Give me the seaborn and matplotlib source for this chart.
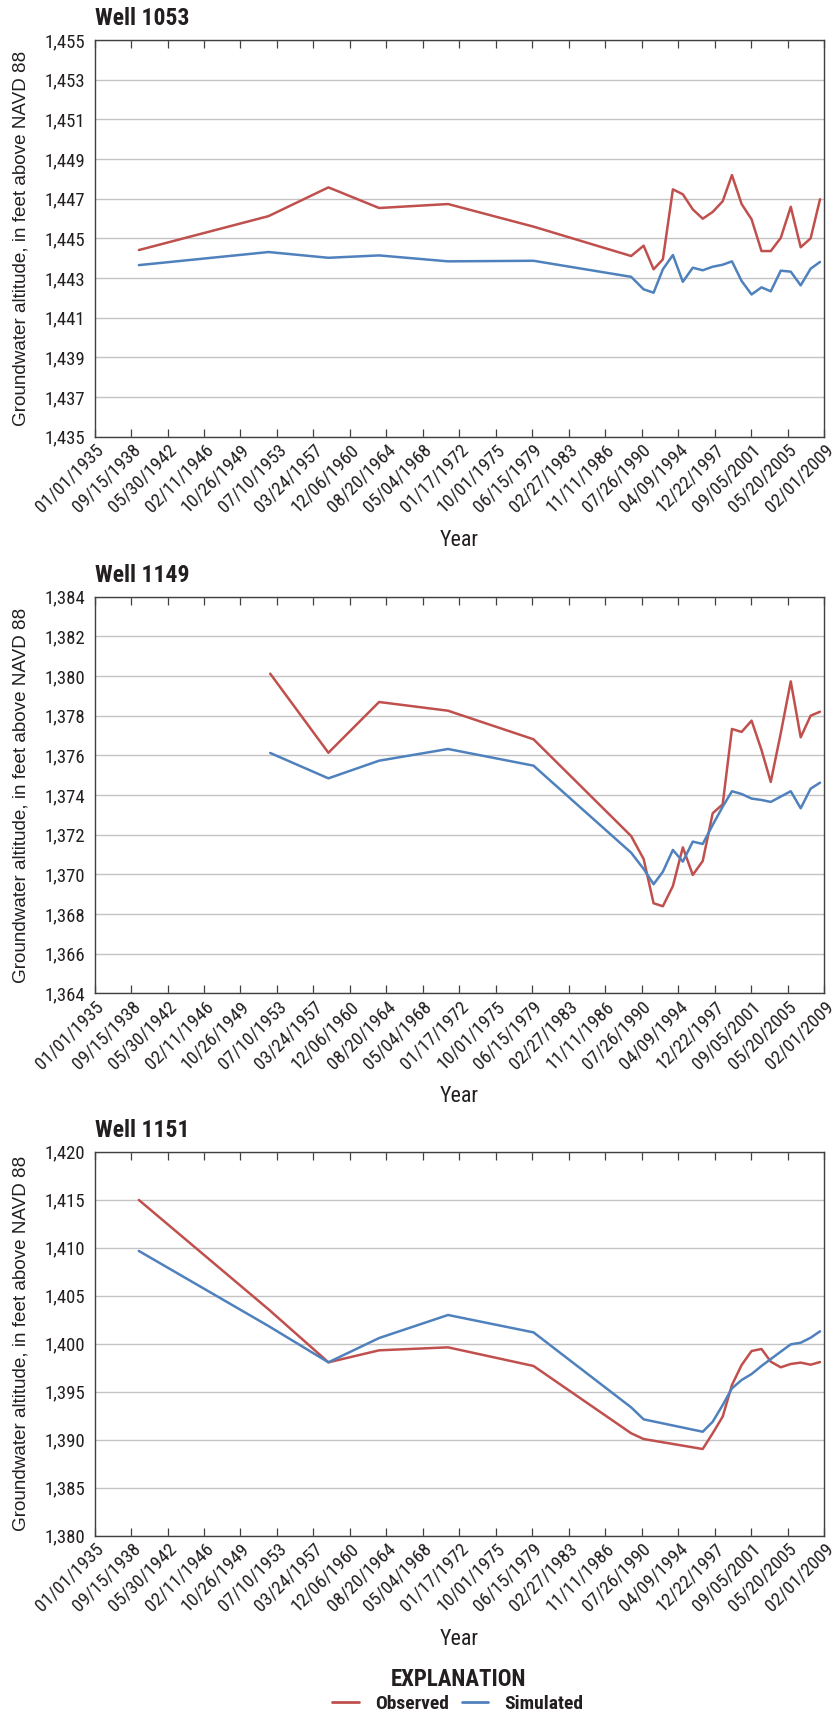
import matplotlib
matplotlib.use("Agg")
import matplotlib.pyplot as plt
from matplotlib import font_manager
from matplotlib.font_manager import FontProperties
from matplotlib.lines import Line2D
from matplotlib.ticker import FuncFormatter, FixedLocator
from matplotlib.transforms import offset_copy
import numpy as np
import pandas as pd
import seaborn as sns

# ---------------------------------------------------------------------------
# Groundwater altitudes (feet above NAVD 88), observed vs. simulated
# ---------------------------------------------------------------------------
late_dates = ["1989-07-01", "1990-10-08", "1991-10-12", "1992-09-20", "1993-09-27",
              "1994-10-01", "1995-10-05", "1996-10-08", "1997-10-12", "1998-10-18",
              "1999-09-27", "2000-09-20", "2001-09-24", "2002-09-27", "2003-09-06",
              "2004-09-10", "2005-09-17", "2006-09-20", "2007-09-24", "2008-09-06"]

dates_1053 = ["1939-07-01", "1952-09-01", "1958-10-01", "1963-11-25", "1970-11-25",
              "1979-08-01"] + late_dates
obs_1053 = [1444.41, 1446.12, 1447.57, 1446.53, 1446.73, 1445.59,
            1444.11, 1444.63, 1443.44, 1443.94, 1447.47, 1447.22, 1446.46, 1445.99,
            1446.33, 1446.87, 1448.19, 1446.73, 1445.96, 1444.36, 1444.36, 1445.02,
            1446.59, 1444.55, 1445.00, 1446.97]
sim_1053 = [1443.65, 1444.31, 1444.02, 1444.14, 1443.84, 1443.87,
            1443.06, 1442.43, 1442.26, 1443.44, 1444.16, 1442.81, 1443.52, 1443.39,
            1443.57, 1443.67, 1443.84, 1442.85, 1442.17, 1442.53, 1442.33, 1443.37,
            1443.32, 1442.63, 1443.47, 1443.81]

dates_1149 = ["1952-11-01", "1958-10-01", "1963-11-25", "1970-11-25",
              "1979-08-01"] + late_dates
obs_1149 = [1380.12, 1376.13, 1378.69, 1378.25, 1376.81,
            1371.93, 1370.77, 1368.54, 1368.39, 1369.41, 1371.36, 1369.97, 1370.67,
            1373.08, 1373.53, 1377.33, 1377.18, 1377.75, 1376.27, 1374.66, 1377.11,
            1379.73, 1376.91, 1378.00, 1378.20]
sim_1149 = [1376.12, 1374.84, 1375.73, 1376.32, 1375.48,
            1371.09, 1370.27, 1369.50, 1370.13, 1371.23, 1370.64, 1371.65, 1371.53,
            1372.49, 1373.41, 1374.19, 1374.05, 1373.82, 1373.75, 1373.65, 1373.92,
            1374.19, 1373.33, 1374.32, 1374.62]

dates_1151 = ["1939-07-01", "1952-09-01", "1958-10-01", "1963-11-25", "1970-11-25",
              "1979-08-01", "1989-07-01", "1990-10-08", "1996-10-08"] + late_dates[8:]
obs_1151 = [1414.97, 1403.58, 1398.06, 1399.31, 1399.62, 1397.68, 1390.67, 1390.07,
            1389.03, 1390.67, 1392.40, 1395.70, 1397.78, 1399.24, 1399.45, 1398.13,
            1397.54, 1397.89, 1398.03, 1397.81, 1398.09]
sim_1151 = [1409.66, 1401.84, 1398.06, 1400.59, 1402.99, 1401.18, 1393.37, 1392.12,
            1390.83, 1391.87, 1393.61, 1395.35, 1396.22, 1396.84, 1397.68, 1398.40,
            1399.17, 1399.93, 1400.10, 1400.62, 1401.29]

well_names = ["Well 1053", "Well 1149", "Well 1151"]
y_limits = [(1435, 1455), (1364, 1384), (1380, 1420)]
y_steps = [2, 2, 5]

series_names = ["Observed", "Simulated"]
series_colors = ["#C0504D", "#4F81BD"]

# date axis: 21 ticks, 1353 days apart, from 01/01/1935 to 02/01/2009
tick_dates = pd.date_range("1935-01-01", periods=21, freq="1353D")
tick_labels = [d.strftime("%m/%d/%Y") for d in tick_dates]


def well_frame(dates, obs, sim):
    d = list(pd.to_datetime(dates))
    return pd.DataFrame({
        "Date": d + d,
        "Altitude": obs + sim,
        "Series": [series_names[0]] * len(obs) + [series_names[1]] * len(sim),
    })


frames = [well_frame(dates_1053, obs_1053, sim_1053),
          well_frame(dates_1149, obs_1149, sim_1149),
          well_frame(dates_1151, obs_1151, sim_1151)]

# ---------------------------------------------------------------------------
# Fonts: a condensed sans for labels if one is installed
# ---------------------------------------------------------------------------
sns.set_style("white")
plt.rcParams["font.family"] = ["Liberation Sans", "DejaVu Sans"]

CONDENSED = ("condensed", "semi-condensed", "extra-condensed", "ultra-condensed")
PREFERRED = ["Liberation Sans Narrow", "Roboto Condensed", "Open Sans Condensed",
             "Noto Sans", "Roboto", "Open Sans", "Lato", "Inter", "DejaVu Sans"]


def weight_num(w):
    if isinstance(w, (int, float)):
        return int(w)
    table = {"thin": 100, "extralight": 200, "ultralight": 200, "light": 300,
             "normal": 400, "regular": 400, "book": 400, "medium": 500,
             "semibold": 600, "demibold": 600, "bold": 700, "extrabold": 800,
             "heavy": 900, "black": 900}
    return table.get(str(w).lower().replace(" ", ""), 400)


def find_condensed(bold):
    best = None
    for f in font_manager.fontManager.ttflist:
        name = f.name
        is_cond = (str(f.stretch).lower() in CONDENSED or "narrow" in name.lower()
                   or "condensed" in name.lower())
        if not is_cond or str(f.style).lower() != "normal":
            continue
        w = weight_num(f.weight)
        if bold and w < 600:
            continue
        if not bold and not (350 <= w <= 500):
            continue
        rank = PREFERRED.index(name) if name in PREFERRED else len(PREFERRED)
        if best is None or rank < best[0]:
            best = (rank, f.fname)
    return best[1] if best else None


reg_file = find_condensed(False)
bold_file = find_condensed(True)
have_condensed = reg_file is not None and bold_file is not None


def fp(size, bold=False):
    if have_condensed:
        return FontProperties(fname=bold_file if bold else reg_file, size=size)
    # wide fallback face, shrunk so the text runs are about as long
    return FontProperties(family=["Liberation Sans", "DejaVu Sans"],
                          weight="bold" if bold else "normal", size=size * 0.86)


ink = "#231F20"
plt.rcParams["text.color"] = ink
plt.rcParams["xtick.color"] = ink
plt.rcParams["ytick.color"] = ink
plt.rcParams["axes.labelcolor"] = ink

W, H = 836, 1713
fig = plt.figure(figsize=(W / 100, H / 100), dpi=100)

# panel frames in pixels: (left, top, right, bottom)
boxes = [(94.6, 40.0, 824.0, 436.7),
         (94.6, 596.7, 824.0, 993.3),
         (94.6, 1151.7, 824.0, 1535.7)]

palette = dict(zip(series_names, series_colors))
xmin, xmax = tick_dates[0], tick_dates[-1]

tick_fp = fp(13.5)
for name, df, (ylo, yhi), step, (l, t, r, b) in zip(well_names, frames, y_limits, y_steps, boxes):
    ax = fig.add_axes([l / W, 1 - b / H, (r - l) / W, (b - t) / H])
    sns.lineplot(data=df, x="Date", y="Altitude", hue="Series", palette=palette,
                 linewidth=1.8, legend=False, ax=ax, zorder=3)

    ax.set_xlim(xmin, xmax)
    ax.set_ylim(ylo, yhi)

    # y axis
    ax.yaxis.set_major_locator(FixedLocator(np.arange(ylo, yhi + step / 2, step)))
    ax.yaxis.set_major_formatter(FuncFormatter(lambda v, p: f"{int(round(v)):,}"))
    ax.tick_params(axis="y", length=0, pad=7)
    for lab in ax.get_yticklabels():
        lab.set_fontproperties(tick_fp)
    ax.yaxis.grid(True, color="#C3C3C3", linewidth=1.0, zorder=0)
    ax.xaxis.grid(False)
    ax.set_axisbelow(True)

    # x axis
    ax.set_xticks(tick_dates)
    ax.set_xticklabels(tick_labels, rotation=45, ha="right", va="top",
                       rotation_mode="anchor", fontproperties=tick_fp)
    ax.tick_params(axis="x", direction="in", top=True, bottom=True, length=5.5,
                   width=0.9, color="#404040", pad=3)

    for sp in ax.spines.values():
        sp.set_color("#404040")
        sp.set_linewidth(1.0)
        sp.set_visible(True)

    h_px = b - t
    ax.set_ylabel("Groundwater altitude, in feet above NAVD 88", fontsize=13.6,
                  family=["Liberation Sans", "DejaVu Sans"])
    ax.yaxis.set_label_coords((30 - l) / (r - l), 0.5)
    ax.set_xlabel("Year", fontproperties=fp(15.8))
    ax.xaxis.set_label_coords(0.5, -93 / h_px)

    title_tr = offset_copy(ax.transAxes, fig=fig, x=0, y=15, units="dots")
    ax.text(0, 1, name, transform=title_tr, ha="left", va="baseline",
            fontproperties=fp(17, bold=True))

# explanation / legend
handles = [Line2D([], [], color=c, linewidth=2.0) for c in series_colors]
leg = fig.legend(handles, series_names, ncol=2, loc="lower center",
                 bbox_to_anchor=(458 / W, 0.0), frameon=False,
                 title="EXPLANATION", handlelength=1.35, handletextpad=0.85,
                 columnspacing=0.65, borderpad=0.0, borderaxespad=0.0,
                 labelspacing=0.2,
                 prop=fp(14, bold=True), title_fontproperties=fp(16.5, bold=True))

fig.savefig("out.png", dpi=100)
